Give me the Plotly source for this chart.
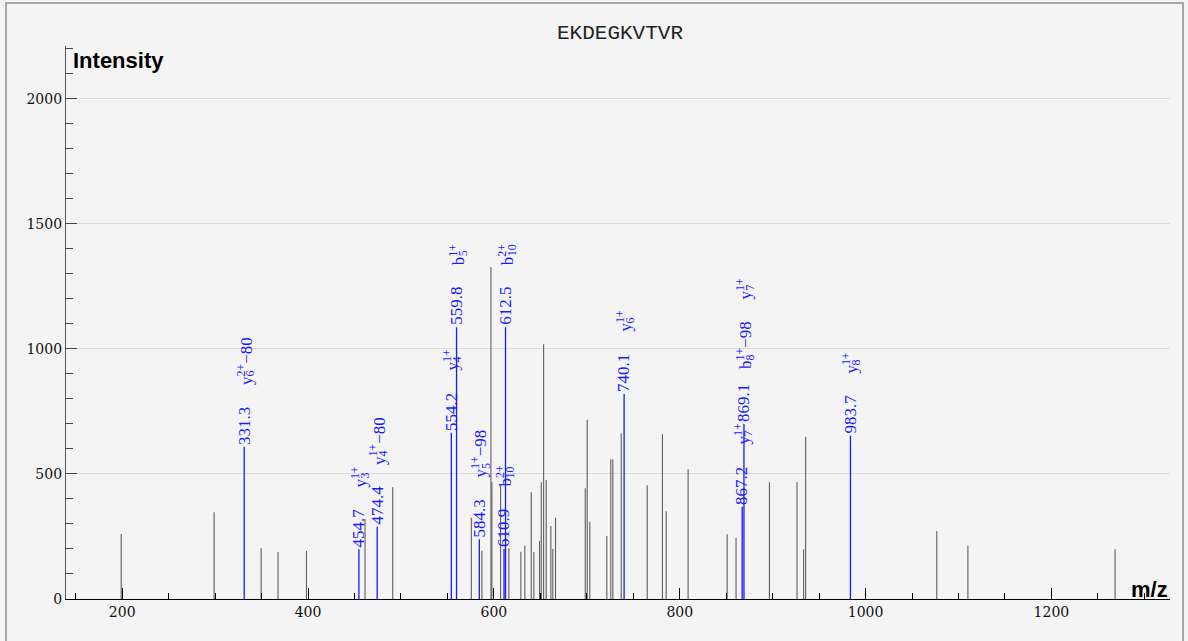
import plotly.graph_objects as go

# ---------------- data ----------------
title_text = "EKDEGKVTVR"

gray_mz = [198.9, 298.9, 349.5, 367.7, 398.3, 461.3, 491.1, 575.7, 587.1, 596.8,
           597.8, 607.2, 616.1, 629.0, 633.3, 640.2, 643.0, 649.1, 651.0, 653.5,
           656.3, 661.3, 663.4, 666.3, 698.3, 700.4, 703.2, 721.5, 725.8, 728.0,
           737.0, 765.0, 781.4, 785.4, 809.0, 851.0, 860.6, 896.5, 926.2, 933.3,
           935.5, 1076.6, 1110.1, 1268.5]
gray_int = [260, 347, 203, 188, 192, 320, 447, 325, 193, 1327,
            467, 455, 203, 189, 213, 427, 188, 232, 467, 1019,
            476, 292, 200, 325, 443, 717, 309, 252, 559, 559,
            663, 455, 659, 351, 519, 259, 245, 467, 467, 199,
            649, 272, 213, 199]

ion_mz = [331.3, 454.7, 474.4, 554.2, 559.8, 584.3, 610.9, 612.5, 740.1, 867.2, 869.1, 983.7]
ion_int = [609, 199, 289, 665, 1087, 239, 200, 1087, 820, 369, 700, 653]
# (ion type, index, charge, neutral loss)
ion_labels = [
    [("y", "6", "2+", "−80")],
    [("y", "3", "1+", "")],
    [("y", "4", "1+", "−80")],
    [("y", "4", "1+", "")],
    [("b", "5", "1+", "")],
    [("y", "5", "1+", "−98")],
    [("b", "10", "2+", "")],
    [("b", "10", "2+", "")],
    [("y", "6", "1+", "")],
    [("y", "7", "1+", "")],
    [("b", "8", "1+", "−98"), ("y", "7", "1+", "")],
    [("y", "8", "1+", "")],
]

x_range = [139.5, 1327.6]
y_range = [0, 2211]

# ---------------- styling ----------------
BG = "#f4f4f4"
BLUE = "rgb(25,25,255)"
GRAY = "#5e5e5e"
ANN_FONT = "Liberation Serif"
ANN_SIZE = 17
TICK_FONT = dict(family="DejaVu Serif", size=14, color="#111")

W, H = 1188, 641
ML, MR, MT, MB = 66, 18, 46, 42
PW, PH = W - ML - MR, H - MT - MB


def px_to_paper_x(px):
    return (px - ML) / PW


def px_to_paper_y(py):
    return (H - MB - py) / PH


def stems(xs, ys):
    sx, sy = [], []
    for m, i in zip(xs, ys):
        sx += [m, m, None]
        sy += [0, i, None]
    return sx, sy


fig = go.Figure()
gx, gy = stems(gray_mz, gray_int)
fig.add_trace(go.Scatter(x=gx, y=gy, mode="lines", line=dict(color=GRAY, width=1.1),
                         hoverinfo="skip", showlegend=False))
bx, by = stems(ion_mz, ion_int)
fig.add_trace(go.Scatter(x=bx, y=by, mode="lines", line=dict(color=BLUE, width=1.3),
                         hoverinfo="skip", showlegend=False))

annotations = []
label_offsets_default = [61]
label_offsets_special = {10: [54, 124]}
base_w = 8.5
for k, (m, inten, labs) in enumerate(zip(ion_mz, ion_int, ion_labels)):
    annotations.append(dict(
        x=m, y=inten, xref="x", yref="y", text=f"{m:.1f}", showarrow=False,
        textangle=-90, xanchor="center", yanchor="bottom", yshift=1,
        font=dict(family=ANN_FONT, size=ANN_SIZE, color=BLUE), borderpad=0))
    offs = label_offsets_special.get(k, label_offsets_default * len(labs))
    for (base, sub, sup, suffix), off in zip(labs, offs):
        annotations.append(dict(
            x=m, y=inten, xref="x", yref="y",
            text=f"{base}<sup>{sup}</sup>{suffix}", showarrow=False,
            textangle=-90, xanchor="center", yanchor="bottom", yshift=off,
            font=dict(family=ANN_FONT, size=ANN_SIZE, color=BLUE), borderpad=0))
        annotations.append(dict(
            x=m, y=inten, xref="x", yref="y", text=sub, showarrow=False,
            textangle=-90, xanchor="center", yanchor="bottom",
            yshift=off + base_w, xshift=6,
            font=dict(family=ANN_FONT, size=12, color=BLUE), borderpad=0))

# title and axis titles
annotations.append(dict(x=px_to_paper_x(620), y=px_to_paper_y(34), xref="paper", yref="paper",
                        text=title_text, showarrow=False, xanchor="center", yanchor="middle",
                        font=dict(family="Liberation Mono", size=21, color="#222")))
annotations.append(dict(x=px_to_paper_x(71), y=px_to_paper_y(60), xref="paper", yref="paper",
                        text="<b>Intensity</b>", showarrow=False, xanchor="left", yanchor="middle",
                        font=dict(family="Liberation Sans", size=22, color="black")))
annotations.append(dict(x=1.0, y=px_to_paper_y(589), xref="paper", yref="paper",
                        text="<b>m/z</b>", showarrow=False, xanchor="right", yanchor="middle",
                        font=dict(family="Liberation Sans", size=22, color="black")))

shapes = [dict(type="rect", xref="paper", yref="paper",
               x0=px_to_paper_x(6), x1=px_to_paper_x(1183),
               y0=px_to_paper_y(650), y1=px_to_paper_y(3),
               line=dict(color="#a8a8a8", width=2), fillcolor="rgba(0,0,0,0)", layer="below")]

fig.update_layout(
    width=W, height=H, margin=dict(l=ML, r=MR, t=MT, b=MB),
    paper_bgcolor=BG, plot_bgcolor=BG,
    annotations=annotations, shapes=shapes, showlegend=False,
    xaxis=dict(range=x_range, tickmode="linear", tick0=0, dtick=200,
               ticks="inside", ticklen=11, tickcolor="black", tickwidth=1,
               showline=True, linecolor="black", linewidth=1.2,
               showgrid=False, zeroline=False, tickfont=TICK_FONT,
               minor=dict(dtick=50, tick0=0, ticks="inside", ticklen=6, tickcolor="black", showgrid=False)),
    yaxis=dict(range=y_range, tickmode="linear", tick0=0, dtick=500,
               ticks="inside", ticklen=11, tickcolor="#444", tickwidth=1,
               showline=True, linecolor="#555", linewidth=1.2,
               showgrid=True, gridcolor="#dcdcdc", gridwidth=1, zeroline=False,
               tickfont=TICK_FONT,
               minor=dict(dtick=100, tick0=0, ticks="inside", ticklen=7, tickcolor="#444", showgrid=False)),
)

fig.write_html("out.html", config={"displayModeBar": False},
               post_script="document.body.style.margin='0';")
